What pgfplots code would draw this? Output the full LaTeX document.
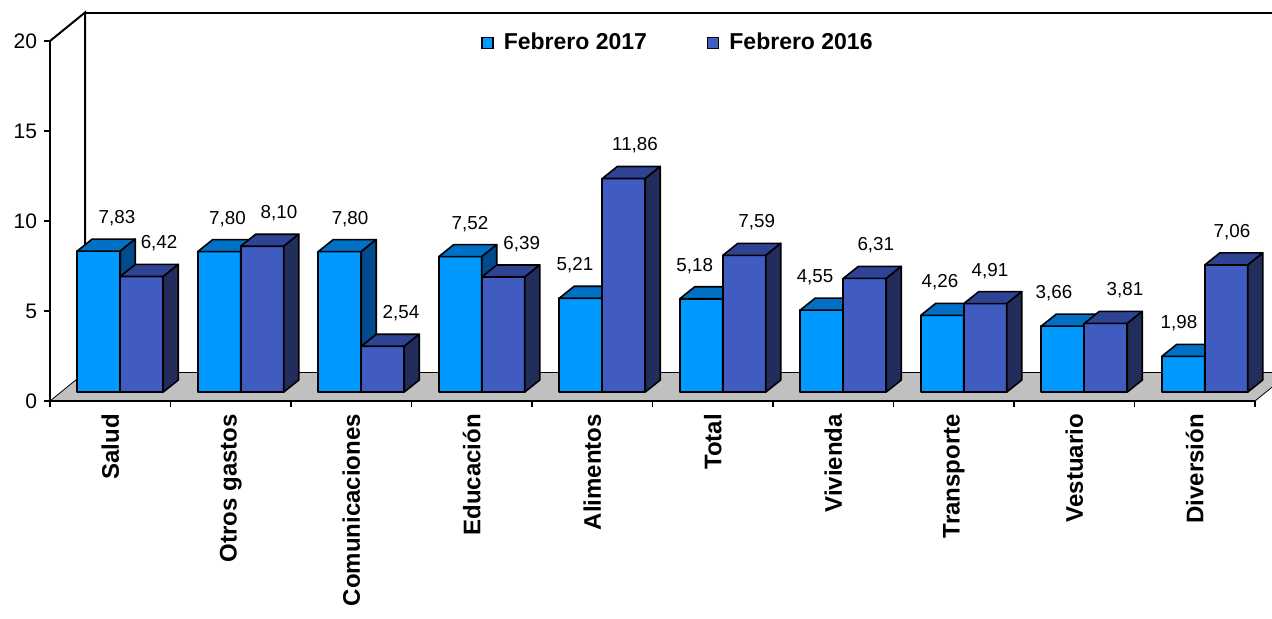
\documentclass[border=0pt]{standalone}
\usepackage{pgfplots}
\usepackage{pgfplotstable}
\pgfplotsset{compat=1.18}
\usepackage{fontspec}
\setmainfont{Liberation Sans}

\definecolor{cAf}{HTML}{0099FF}
\definecolor{cAt}{HTML}{0070C4}
\definecolor{cAs}{HTML}{004C8C}
\definecolor{cBf}{HTML}{405CC0}
\definecolor{cBt}{HTML}{2E4394}
\definecolor{cBs}{HTML}{222D5C}
\definecolor{floorgray}{HTML}{C0C0C0}

% values: a = Febrero 2017, b = Febrero 2016
\pgfplotstableread{
i a b
0 7.83 6.42
1 7.80 8.10
2 7.80 2.54
3 7.52 6.39
4 5.21 11.86
5 5.18 7.59
6 4.55 6.31
7 4.26 4.91
8 3.66 3.81
9 1.98 7.06
}\datatable

% data label positions
\pgfplotstableread{
lx v t
0.556 7.83 7,83
0.905 6.42 6,42
1.473 7.80 7,80
1.900 8.10 8,10
2.490 7.80 7,80
2.913 2.54 2,54
3.485 7.52 7,52
3.915 6.39 6,39
4.357 5.21 5,21
4.855 11.86 11,86
5.350 5.18 5,18
5.865 7.59 7,59
6.349 4.55 4,55
6.853 6.31 6,31
7.386 4.26 4,26
7.801 4.91 4,91
8.332 3.66 3,66
8.921 3.81 3,81
9.369 1.98 1,98
9.809 7.06 7,06
}\lbltable

\def\BW{0.357}   % bar width
\def\DX{0.1245}  % bar depth x
\def\DY{0.667}   % bar depth y
\def\OX{0.083}   % front offset x
\def\FY{0.5}     % front offset y (bar base)

\pgfplotsset{barface/.style={draw=black, line width=0.8pt, line join=round, forget plot, mark=none}}

\newcommand\drawbar[5]{%
  \pgfmathsetmacro\xa{#1}%
  \pgfmathsetmacro\xb{#1+\BW}%
  \pgfmathsetmacro\xc{#1+\BW+\DX}%
  \pgfmathsetmacro\xd{#1+\DX}%
  \pgfmathsetmacro\yb{\FY+#2}%
  \pgfmathsetmacro\yc{\FY+#2+\DY}%
  \pgfmathsetmacro\yd{\FY+\DY}%
  \edef\temp{%
    \noexpand\addplot[barface, fill=#3] coordinates {(\xa,\FY) (\xb,\FY) (\xb,\yb) (\xa,\yb)} -- cycle;%
    \noexpand\addplot[barface, fill=#4] coordinates {(\xa,\yb) (\xb,\yb) (\xc,\yc) (\xd,\yc)} -- cycle;%
    \noexpand\addplot[barface, fill=#5] coordinates {(\xb,\FY) (\xc,\yd) (\xc,\yc) (\xb,\yb)} -- cycle;%
  }\temp
}

\begin{document}
\begin{tikzpicture}
\useasboundingbox (-25pt,-108.5pt) rectangle (611pt,200.5pt);
\clip (-25pt,-108.5pt) rectangle (611pt,200.5pt);
\begin{axis}[
  at={(0,0)}, anchor=south west,
  scale only axis, width=602.5pt, height=180pt,
  xmin=0, xmax=10, ymin=0, ymax=20,
  clip=false, axis on top,
  axis lines*=left,
  axis line style={line width=1pt},
  tick align=outside,
  major tick length=3pt,
  tick style={black, line width=0.8pt},
  xtick={0,...,10},
  x tick label as interval,
  xticklabels={Salud,Otros gastos,Comunicaciones,Educación,Alimentos,Total,Vivienda,Transporte,Vestuario,Diversión},
  xticklabel style={rotate=90, anchor=east, font=\bfseries\fontsize{12}{14}\selectfont},
  ytick={0,5,...,20},
  yticklabel style={font=\fontsize{10.5}{12}\selectfont},
  /pgf/number format/assume math mode=true,
  legend image code/.code={\draw[#1, line width=0.7pt] (0pt,-2.75pt) rectangle (5.5pt,2.75pt);},
  legend style={at={(0.522,0.995)}, anchor=center, draw=none, fill=none,
    legend columns=2, font=\bfseries\fontsize{11.5}{13}\selectfont,
    /tikz/every odd column/.append style={column sep=3pt},
    /tikz/every even column/.append style={column sep=28pt}},
]
% floor
\addplot[fill=floorgray, draw=black, line width=0.4pt, forget plot]
  coordinates {(0,0) (10,0) (10.2905,1.583) (0.2905,1.583)} -- cycle;
% back walls
\addplot[black, line width=1pt, forget plot]
  coordinates {(0,20) (0.2905,21.583) (0.2905,1.583)};
\addplot[black, line width=1pt, forget plot]
  coordinates {(0.2905,21.583) (10.2905,21.583) (10.2905,1.583)};
% bars
\pgfplotsinvokeforeach{0,...,9}{
  \pgfplotstablegetelem{#1}{a}\of\datatable \let\va\pgfplotsretval
  \pgfplotstablegetelem{#1}{b}\of\datatable \let\vb\pgfplotsretval
  \drawbar{#1+0.5+\OX-\BW}{\va}{cAf}{cAt}{cAs}
  \drawbar{#1+0.5+\OX}{\vb}{cBf}{cBt}{cBs}
}
% data labels
\addplot[draw=none, mark=none, forget plot,
  nodes near coords, point meta=explicit symbolic,
  every node near coord/.append style={anchor=center, inner sep=0pt,
    font=\fontsize{9.4}{11}\selectfont, text=black}]
  table[x=lx, y expr=\thisrow{v}+2.33, meta=t] {\lbltable};
% legend
\addlegendimage{fill=cAf, draw=black}
\addlegendentry{Febrero 2017}
\addlegendimage{fill=cBf, draw=black}
\addlegendentry{Febrero 2016}
\end{axis}
\end{tikzpicture}
\end{document}
